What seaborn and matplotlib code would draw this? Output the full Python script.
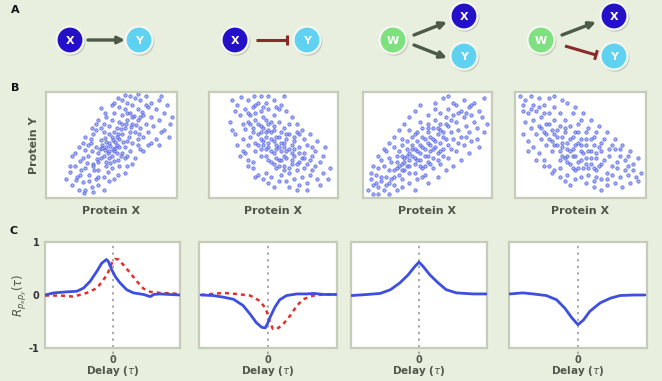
import numpy as np
import pandas as pd
import matplotlib
matplotlib.use("Agg")
import matplotlib.pyplot as plt
import seaborn as sns
from matplotlib.patches import Circle, FancyArrowPatch

# ---------------- data ----------------
# Panel B scatter clouds (coordinates in % of panel box)
b1_x = [20,24,18,28,30,26,33,35,22,38,32,36,40,42,30,44,28,46,38,34,40,45,48,50,42,36,48,52,55,44,
        50,54,58,46,52,56,60,48,54,58,62,64,50,56,60,64,66,52,58,62,66,68,70,56,60,64,70,72,74,62,
        66,70,74,76,78,68,72,78,80,82,84,86,88,90,76,40,43,47,49,51,53,55,57,59,45,39,41,35,31,27,
        23,37,61,63,65,67,69,71,73,57,52,47,25,29,33,92,95,15,42,38,49,51,46,53,48,44,56,50,43,54,
        20,25,30,35,40,45,50,55,60,42,30,40,48,55,62,68,74,80,86,94,18,22,28,34,38,46,52,58,64,70,
        36,44,52,60,66,72,78,84,90,96,58,62,44,48,54,60,36,32,26,40,66,72,76,80,86,88,70,62,56,46]
b1_y = [12,20,25,15,28,35,22,10,30,18,40,32,26,38,45,20,38,30,48,52,42,45,38,28,55,60,52,44,36,62,
        58,50,42,48,62,56,48,68,66,60,54,44,74,72,66,62,52,80,78,74,70,62,56,86,84,80,74,66,58,90,
        88,84,78,70,62,94,92,86,76,68,84,74,62,80,96,34,50,42,33,55,47,60,40,53,57,37,46,44,33,26,
        17,26,70,58,67,77,69,60,81,65,35,25,8,5,16,88,70,18,66,70,49,46,53,53,44,40,48,40,47,58,
        40,48,58,66,74,80,88,94,97,85,8,12,16,22,30,38,44,52,50,58,30,42,52,56,64,76,90,92,96,98,
        6,8,18,24,32,46,50,56,64,76,70,80,70,60,42,38,30,50,22,20,76,76,88,90,92,96,50,40,30,34]
b2_x = [25,30,22,35,28,34,38,24,32,40,30,36,42,46,28,34,40,46,50,32,38,44,50,54,36,42,48,54,58,40,
        46,52,58,62,44,50,56,62,66,48,54,60,66,70,52,58,64,70,74,56,62,68,74,78,60,66,72,78,82,70,
        76,84,88,92,86,80,40,36,30,26,44,48,52,56,46,50,42,54,60,58,64,62,68,48,38,44,32,26,50,56,
        60,64,66,72,76,80,34,28,70,76,52,46,42,36,20,54,58,82,18,44,
        50,56,60,64,68,72,78,84,90,58,20,22,26,30,34,38,42,46,50,24,16,18,40,46,54,62,68,74,80,88,
        30,36,44,48,54,62,68,76,86,94,40,46,52,58,64,70,74,56,50,44,38,34,40,48,52,42,30,36,60,66]
b2_y = [95,92,88,96,84,86,90,78,78,82,72,74,76,84,65,66,68,70,78,58,60,62,64,72,52,54,56,58,66,46,
        48,50,52,60,40,42,44,46,54,34,36,38,40,48,28,30,32,34,42,22,24,26,28,36,16,18,20,22,30,12,
        14,18,24,18,34,40,40,44,50,56,58,62,46,52,52,54,50,48,44,40,36,28,32,44,70,74,70,70,68,62,
        56,50,46,38,32,26,34,42,60,50,38,36,66,80,82,30,26,44,92,90,
        92,88,82,76,70,64,60,54,48,96,60,50,44,36,28,22,18,14,10,40,72,64,96,96,84,70,62,56,48,40,
        30,20,24,20,16,10,8,8,12,28,56,64,58,48,42,42,38,36,32,46,50,62,62,72,86,86,80,88,60,58]
b3_x = [4,8,6,12,10,14,16,12,18,20,16,20,24,22,26,28,20,26,30,32,28,32,34,36,30,34,38,40,34,38,
        42,44,46,38,42,46,48,50,42,46,50,52,54,46,50,54,56,58,50,54,58,60,62,56,60,62,64,66,60,64,
        66,68,70,66,70,72,74,76,72,76,78,80,82,78,82,84,86,88,86,90,92,94,96,30,36,40,44,48,52,36,
        32,28,24,44,40,56,48,58,62,18,22,14,10,26,30,34,38,44,50,52,68,74,80,84,70,56,60,64,40,8,
        8,12,16,20,24,28,32,36,40,44,30,36,42,48,54,60,66,72,78,84,20,26,40,50,58,64,70,76,82,90,
        14,18,24,30,36,44,50,56,62,66,40,46,52,58,62,68,74,80,88,94,12,6,24,30,36,42,48,54,60,50]
b3_y = [8,12,18,10,22,16,8,28,20,14,30,26,20,34,28,22,38,40,32,26,44,38,30,24,50,46,40,32,54,50,
        44,36,28,58,54,48,40,34,62,58,52,44,38,66,62,56,48,42,70,66,60,52,46,74,70,62,56,50,80,76,
        68,62,56,84,78,72,64,58,88,82,76,68,62,92,86,78,72,66,90,82,76,94,70,40,36,46,42,46,50,42,
        34,30,26,50,38,54,56,66,58,12,18,20,14,34,26,40,46,30,40,58,74,80,80,88,90,84,64,70,60,4,
        30,40,46,52,58,64,70,76,82,88,10,14,18,22,28,32,38,44,50,54,4,8,8,14,20,26,30,36,42,48,
        36,44,48,56,64,72,78,90,94,96,24,20,32,36,40,46,52,58,56,62,4,24,12,18,30,36,30,46,44,66]
b4_x = [4,8,12,6,14,18,10,16,22,26,14,20,26,30,18,24,30,34,22,28,34,38,26,32,38,42,30,36,42,46,
        34,40,46,50,38,44,50,54,42,48,54,58,46,52,58,62,50,56,62,66,60,66,70,74,70,76,80,84,82,88,
        92,96,86,78,72,66,60,54,48,44,40,36,32,28,24,20,50,56,62,68,74,64,58,52,46,40,44,38,30,48,
        36,42,48,54,60,34,26,22,16,12,80,90,94,70,58,64,18,8,76,86,
        6,10,14,18,22,26,30,34,38,42,40,46,52,58,64,70,76,82,88,94,10,16,22,28,34,40,46,54,60,66,
        30,36,44,50,56,62,68,74,80,86,20,24,28,32,36,40,44,50,56,62,48,54,60,66,72,78,84,90,12,6]
b4_y = [96,92,96,88,88,94,80,82,88,94,74,76,80,86,68,70,74,80,62,64,68,74,56,58,62,68,50,52,56,62,
        44,46,50,56,38,40,44,50,32,34,38,44,26,28,32,38,20,22,26,32,16,18,24,30,12,14,20,26,10,14,
        20,24,30,34,40,44,50,56,62,46,52,58,64,44,50,56,50,44,42,36,22,30,38,42,40,40,58,66,60,28,
        48,44,52,32,28,36,70,80,60,66,40,32,16,18,56,48,86,72,46,22,
        60,54,48,42,36,30,26,20,16,12,90,86,80,74,68,62,56,50,44,38,44,36,30,24,28,22,18,14,10,8,
        96,92,80,74,66,62,56,50,46,40,66,60,54,50,40,34,28,36,28,20,70,62,58,52,46,28,36,26,84,82]

# Panel C cross-correlation curves (delay, correlation)
c1_solid_t = [-1.0,-0.87,-0.67,-0.53,-0.43,-0.33,-0.23,-0.16,-0.09,-0.06,-0.02,0.04,0.11,0.21,0.31,0.46,0.56,0.61,0.70,1.0]
c1_solid_r = [0.00,0.04,0.06,0.07,0.13,0.26,0.45,0.60,0.67,0.63,0.50,0.35,0.23,0.10,0.04,0.01,-0.03,0.01,0.02,0.00]
c1_dash_t = [-1.0,-0.77,-0.58,-0.38,-0.23,-0.08,-0.01,0.04,0.09,0.16,0.26,0.36,0.46,0.56,0.70,0.90,1.0]
c1_dash_r = [-0.01,-0.01,-0.03,0.04,0.13,0.38,0.60,0.68,0.67,0.57,0.42,0.26,0.12,0.06,0.04,0.03,0.01]
c2_solid_t = [-0.97,-0.80,-0.65,-0.50,-0.36,-0.26,-0.17,-0.09,-0.04,-0.01,0.03,0.10,0.17,0.27,0.42,0.56,0.66,0.81,0.99]
c2_solid_r = [0.0,-0.01,-0.04,-0.08,-0.20,-0.36,-0.52,-0.61,-0.62,-0.55,-0.42,-0.23,-0.09,-0.01,0.02,0.02,0.03,0.01,0.01]
c2_dash_t = [-0.97,-0.80,-0.65,-0.46,-0.26,-0.12,-0.03,0.02,0.07,0.13,0.22,0.32,0.42,0.51,0.66,0.81,0.99]
c2_dash_r = [0.0,0.02,0.04,0.02,-0.01,-0.11,-0.26,-0.48,-0.64,-0.64,-0.55,-0.39,-0.20,-0.08,-0.01,0.01,0.01]
c3_solid_t = [-0.99,-0.76,-0.57,-0.42,-0.28,-0.16,-0.06,0.0,0.06,0.16,0.28,0.40,0.55,0.80,0.99]
c3_solid_r = [-0.01,0.01,0.03,0.10,0.23,0.38,0.54,0.62,0.54,0.38,0.23,0.10,0.04,0.02,0.02]
c4_solid_t = [-0.99,-0.80,-0.65,-0.46,-0.31,-0.19,-0.09,0.0,0.08,0.17,0.32,0.47,0.61,0.81,0.97]
c4_solid_r = [0.02,0.04,0.02,-0.01,-0.09,-0.25,-0.43,-0.56,-0.47,-0.31,-0.15,-0.06,-0.01,0.0,0.0]

c_yticks = [-1, 0, 1]
c_yticklabels = ["-1", "0", "1"]

# ---------------- style ----------------
sns.set_theme(style="white")
plt.rcParams["font.family"] = ["DejaVu Sans"]
BG = "#e8efdf"
FRAME = "#c5cdb9"
TXT = "#50564a"
BLUE = "#3d4fe0"
RED = "#e0302c"

W, H = 662, 381
fig = plt.figure(figsize=(W / 100, H / 100), dpi=100, facecolor=BG)


def ax_at(x0, x1, y0, y1):
    return fig.add_axes([x0 / W, 1 - y1 / H, (x1 - x0) / W, (y1 - y0) / H])


def frame(ax):
    ax.set_facecolor("white")
    for s in ax.spines.values():
        s.set_color(FRAME)
        s.set_linewidth(1.6)


# ---------------- row B: scatter ----------------
b_cols = [(46, 177), (209, 338), (363, 492), (515, 646)]
b_data = [(b1_x, b1_y), (b2_x, b2_y), (b3_x, b3_y), (b4_x, b4_y)]
for (x0, x1), (bx, by) in zip(b_cols, b_data):
    ax = ax_at(x0, x1, 92, 198)
    frame(ax)
    df = pd.DataFrame({"x": bx, "y": by})
    sns.scatterplot(data=df, x="x", y="y", ax=ax, s=6, color="#8a96f0",
                    edgecolor=BLUE, linewidth=0.55, alpha=0.75, legend=False)
    ax.set_xlim(0, 100)
    ax.set_ylim(0, 100)
    ax.set_xticks([])
    ax.set_yticks([])
    ax.set_xlabel("")
    ax.set_ylabel("")

# ---------------- row C: cross-correlation ----------------
c_cols = [(45, 180), (199, 337), (351, 487), (509, 647)]
c_curves = [
    [(c1_solid_t, c1_solid_r, "solid"), (c1_dash_t, c1_dash_r, "dash")],
    [(c2_solid_t, c2_solid_r, "solid"), (c2_dash_t, c2_dash_r, "dash")],
    [(c3_solid_t, c3_solid_r, "solid")],
    [(c4_solid_t, c4_solid_r, "solid")],
]
for i, ((x0, x1), curves) in enumerate(zip(c_cols, c_curves)):
    ax = ax_at(x0, x1, 242, 348)
    frame(ax)
    ax.axvline(0, ymin=-0.06, ymax=1.0, color="#a9a9a9", lw=1.4,
               ls=(0, (1.2, 2.2)), clip_on=False, zorder=1)
    for t, r, kind in sorted(curves, key=lambda c: c[2] == "solid"):
        df = pd.DataFrame({"t": t, "r": r})
        if kind == "solid":
            sns.lineplot(data=df, x="t", y="r", ax=ax, color=BLUE, lw=2.0,
                         sort=False, zorder=4)
        else:
            sns.lineplot(data=df, x="t", y="r", ax=ax, color=RED, lw=1.8,
                         sort=False, zorder=3, linestyle=(0, (1.6, 1.6)))
    ax.set_xlim(-1, 1)
    ax.set_ylim(-1, 1)
    ax.set_xlabel("")
    ax.set_ylabel("")
    ax.set_xticks([0])
    ax.set_xticklabels(["0"], fontsize=7, fontweight="bold", color=TXT)
    ax.tick_params(axis="x", length=0, pad=5)
    if i == 0:
        ax.set_yticks(c_yticks)
        ax.set_yticklabels(c_yticklabels, fontsize=7, fontweight="bold", color="#333333")
        ax.tick_params(axis="y", length=0, pad=4)
    else:
        ax.set_yticks([])
    ax.text(0.5, -0.22, r"Delay ($\tau$)", transform=ax.transAxes, ha="center",
            va="center", fontsize=7.5, fontweight="bold", color=TXT)

# ---------------- overlay: diagrams and labels ----------------
ov = fig.add_axes([0, 0, 1, 1], zorder=10)
ov.set_xlim(0, W)
ov.set_ylim(H, 0)
ov.axis("off")
ov.patch.set_alpha(0)

R = 13.5
NODE = {"X": "#2410c8", "Y": "#5fd2f2", "W": "#7ee07e"}


def node(x, y, name):
    ov.add_patch(Circle((x + 1.2, y + 1.5), R + 0.8, color="#9aa394", alpha=0.45, lw=0))
    ov.add_patch(Circle((x, y), R, facecolor=NODE[name], edgecolor="#f4f7f0", lw=1.6))
    ov.text(x, y + 0.5, name, ha="center", va="center", color="white",
            fontsize=8, fontweight="bold")


def arrow(p0, p1):
    ov.add_patch(FancyArrowPatch(p0, p1, arrowstyle="-|>", mutation_scale=10,
                                 color="#4d5a49", lw=2.4, shrinkA=0, shrinkB=0))


def inhibit(p0, p1):
    p0 = np.array(p0, float)
    p1 = np.array(p1, float)
    d = (p1 - p0) / np.linalg.norm(p1 - p0)
    n = np.array([-d[1], d[0]])
    ov.plot([p0[0], p1[0]], [p0[1], p1[1]], color="#8a2a2a", lw=2.2, solid_capstyle="butt")
    b0, b1 = p1 + n * 5, p1 - n * 5
    ov.plot([b0[0], b1[0]], [b0[1], b1[1]], color="#8a2a2a", lw=2.2, solid_capstyle="butt")


node(70, 40, "X"); node(139, 40, "Y")
arrow((88, 40), (125, 40))
node(235, 40, "X"); node(307, 40, "Y")
inhibit((256, 40), (287, 40))
node(393, 40, "W"); node(464, 16, "X"); node(464, 56, "Y")
arrow((414, 35), (447, 22))
arrow((414, 45), (447, 58))
node(541, 40, "W"); node(614, 16, "X"); node(614, 56, "Y")
arrow((562, 35), (596, 22))
inhibit((565, 46), (596, 55))

for lab, (x, y) in {"A": (11, 10), "B": (11, 88), "C": (10, 231)}.items():
    ov.text(x, y, lab, ha="left", va="center", fontsize=8, fontweight="bold", color="#111111")

ov.text(34, 145, "Protein Y", rotation=90, ha="center", va="center",
        fontsize=8, fontweight="bold", color=TXT)
for x0, x1 in b_cols:
    ov.text((x0 + x1) / 2, 211, "Protein X", ha="center", va="center",
            fontsize=8, fontweight="bold", color=TXT)
ov.text(20, 295, r"$R_{p_x p_y}(\tau)$", rotation=90, ha="center", va="center",
        fontsize=8.5, color=TXT)

fig.savefig("out.png", dpi=100, facecolor=BG)
